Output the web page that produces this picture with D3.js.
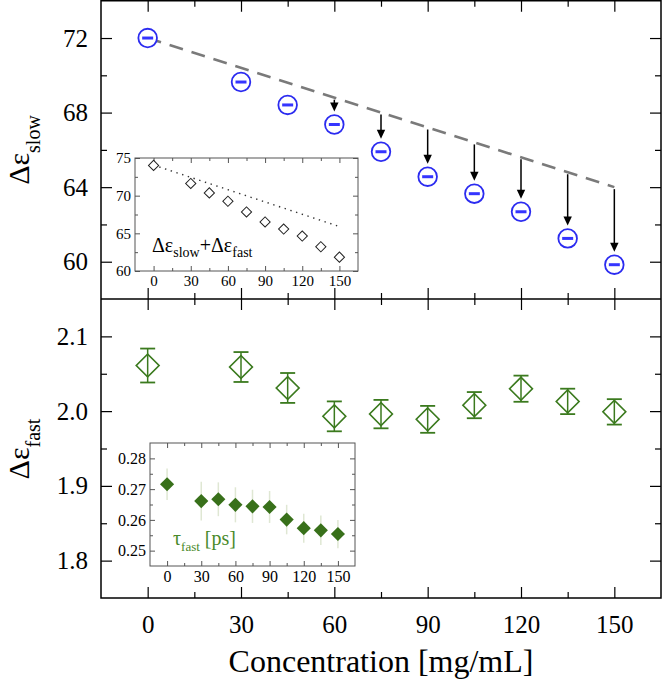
<!DOCTYPE html>
<html><head><meta charset="utf-8">
<script src="https://cdn.jsdelivr.net/npm/d3@7"></script>
<style>
body{margin:0;background:#fff}
svg{display:block}
text{font-family:"Liberation Serif","Times New Roman",serif}
</style>
</head><body>
<svg id="c" width="662" height="679"></svg>
<script>
// ---------------- data ----------------
const conc = [0,30,45,60,75,90,105,120,135,150];
const slow = [72.0,69.64,68.41,67.36,65.90,64.56,63.65,62.68,61.25,59.84];
const slowLine = [{c:0,v:72.0},{c:150,v:64.0}];
const arrowConc = [60,75,90,105,120,135,150];
const total = [74.02,71.62,70.37,69.26,67.84,66.51,65.57,64.64,63.22,61.84];
const totalLine = [{c:0,v:74.06},{c:150,v:65.9}];
const fast = [2.061,2.059,2.031,1.993,1.996,1.989,2.008,2.030,2.013,1.999];
const fastErr = [0.0227,0.020,0.020,0.020,0.019,0.018,0.0175,0.0175,0.017,0.017];
const tau = [0.2716,0.2661,0.2667,0.2649,0.2644,0.2642,0.2601,0.2573,0.2566,0.2554];
const tauErr = [0.0051,0.0063,0.0055,0.0057,0.0054,0.0052,0.0048,0.0047,0.0048,0.0046];
const xTicks = [0,30,60,90,120,150];
const xMinor = [15,45,75,105,135];
const slowTicks = [60,64,68,72];
const slowMinor = [62,66,70];
const fastTicks = [1.8,1.9,2.0,2.1];
const fastMinor = [1.85,1.95,2.05];
const sumTicks = [60,65,70,75];
const sumMinor = [62.5,67.5,72.5];
const tauTicks = [0.25,0.26,0.27,0.28];
const tauMinor = [0.255,0.265,0.275];

// ---------------- setup ----------------
const svg = d3.select("#c");
const L=101, R=661, T=0.75, M=299, B=598;
const x = d3.scaleLinear().domain([-15,165]).range([L,R]);
const yS = d3.scaleLinear().domain([58,74]).range([M,T]);
const yF = d3.scaleLinear().domain([1.75,2.15]).range([B,M]);

const xi1 = d3.scaleLinear().domain([-15,165]).range([135,358]);
const yi1 = d3.scaleLinear().domain([60,75]).range([271,158]);
const xi2 = d3.scaleLinear().domain([-15,165]).range([150,355]);
const yi2 = d3.scaleLinear().domain([0.245,0.285]).range([566,443]);

const blue = "#2b2bf0", green = "#3b7a1e", greenFill = "#38701a";

function ax(fn, scale, values, size, tx, ty, opt){
  opt = opt || {};
  const a = fn(scale).tickValues(values).tickSizeInner(-size).tickSizeOuter(0)
    .tickPadding(opt.pad || 3);
  if (opt.labels) { if (opt.fmt) a.tickFormat(opt.fmt); } else a.tickFormat(()=> "");
  const g = svg.append("g").attr("transform",`translate(${tx},${ty})`).call(a);
  g.select(".domain").remove();
  g.selectAll(".tick line").attr("stroke", opt.color || "#000").attr("stroke-width", opt.sw || 1.2);
  g.selectAll(".tick text").attr("font-size", opt.fs || 25).attr("fill","#000")
    .attr("font-family",'"Liberation Serif","Times New Roman",serif');
  return g;
}

// ---------------- main axes ----------------
// top panel
ax(d3.axisTop, x, xTicks, 11, 0, T);
ax(d3.axisTop, x, xMinor, 6, 0, T);
ax(d3.axisBottom, x, xTicks, 11, 0, M);
ax(d3.axisBottom, x, xMinor, 6, 0, M);
ax(d3.axisLeft, yS, slowTicks, 11, L, 0, {labels:true, pad:13, fs:25});
ax(d3.axisLeft, yS, slowMinor, 6, L, 0);
ax(d3.axisRight, yS, slowTicks, 11, R, 0);
ax(d3.axisRight, yS, slowMinor, 6, R, 0);
// bottom panel
ax(d3.axisTop, x, xTicks, 11, 0, M);
ax(d3.axisTop, x, xMinor, 6, 0, M);
ax(d3.axisBottom, x, xTicks, 11, 0, B, {labels:true, pad:17, fs:25});
ax(d3.axisBottom, x, xMinor, 6, 0, B);
ax(d3.axisLeft, yF, fastTicks, 11, L, 0, {labels:true, pad:13, fs:25, fmt:d3.format(".1f")});
ax(d3.axisLeft, yF, fastMinor, 6, L, 0);
ax(d3.axisRight, yF, fastTicks, 11, R, 0);
ax(d3.axisRight, yF, fastMinor, 6, R, 0);

// frame
svg.append("rect").attr("x",L).attr("y",T).attr("width",R-L).attr("height",B-T)
  .attr("fill","none").attr("stroke","#000").attr("stroke-width",1.5);
svg.append("line").attr("x1",L).attr("x2",R).attr("y1",M).attr("y2",M)
  .attr("stroke","#000").attr("stroke-width",1.5);

// ---------------- top panel data ----------------
svg.append("path").datum(slowLine)
  .attr("d", d3.line().x(d=>x(d.c)).y(d=>yS(d.v)))
  .attr("fill","none").attr("stroke","#7a7a7a").attr("stroke-width",2.5)
  .attr("stroke-dasharray","14,9");

// arrows from the dashed line down to the points
const lineAt = c => slowLine[0].v + (slowLine[1].v - slowLine[0].v)*(c - slowLine[0].c)/(slowLine[1].c - slowLine[0].c);
const arr = svg.append("g");
arrowConc.forEach(c=>{
  const i = conc.indexOf(c);
  const xs = x(c), y0 = yS(lineAt(c)) + 2, tip = yS(slow[i]) - 9.5 - 3.5;
  arr.append("line").attr("x1",xs).attr("x2",xs).attr("y1",y0).attr("y2",tip-7)
    .attr("stroke","#000").attr("stroke-width",1.5);
  arr.append("path").attr("d",`M${xs},${tip}L${xs-4.2},${tip-9}L${xs+4.2},${tip-9}Z`).attr("fill","#000");
});

const gs = svg.append("g").selectAll("g").data(conc).join("g")
  .attr("transform",(d,i)=>`translate(${x(d)},${yS(slow[i])})`);
gs.append("circle").attr("r",9.3).attr("fill","#fff").attr("stroke",blue).attr("stroke-width",1.8);
gs.append("line").attr("x1",-5.5).attr("x2",5.5).attr("stroke","#3535ff").attr("stroke-width",3);

// ---------------- bottom panel data ----------------
const gf = svg.append("g").selectAll("g").data(conc).join("g")
  .attr("transform",(d,i)=>`translate(${x(d)},0)`);
gf.append("line").attr("y1",(d,i)=>yF(fast[i]+fastErr[i])).attr("y2",(d,i)=>yF(fast[i]-fastErr[i]))
  .attr("stroke",green).attr("stroke-width",1.5);
gf.append("line").attr("x1",-7.5).attr("x2",7.5).attr("y1",(d,i)=>yF(fast[i]+fastErr[i])).attr("y2",(d,i)=>yF(fast[i]+fastErr[i]))
  .attr("stroke",green).attr("stroke-width",1.8);
gf.append("line").attr("x1",-7.5).attr("x2",7.5).attr("y1",(d,i)=>yF(fast[i]-fastErr[i])).attr("y2",(d,i)=>yF(fast[i]-fastErr[i]))
  .attr("stroke",green).attr("stroke-width",1.8);
gf.append("path").attr("d",d3.symbol(d3.symbolSquare, 262)())
  .attr("transform",(d,i)=>`translate(0,${yF(fast[i])}) rotate(45)`)
  .attr("fill","none").attr("stroke",green).attr("stroke-width",1.6);

// ---------------- inset 1 ----------------
svg.append("rect").attr("x",135).attr("y",158).attr("width",223).attr("height",113)
  .attr("fill","#fff").attr("stroke","none");
const i1o = {color:"#555", sw:1};
ax(d3.axisBottom, xi1, xTicks, 5, 0, 271, {labels:true, pad:4, fs:15, color:"#555", sw:1});
ax(d3.axisBottom, xi1, xMinor, 3, 0, 271, i1o);
ax(d3.axisTop, xi1, xTicks, 5, 0, 158, i1o);
ax(d3.axisTop, xi1, xMinor, 3, 0, 158, i1o);
ax(d3.axisLeft, yi1, sumTicks, 5, 135, 0, {labels:true, pad:4, fs:15, color:"#555", sw:1});
ax(d3.axisLeft, yi1, sumMinor, 3, 135, 0, i1o);
ax(d3.axisRight, yi1, sumTicks, 5, 358, 0, i1o);
ax(d3.axisRight, yi1, sumMinor, 3, 358, 0, i1o);
svg.append("rect").attr("x",135).attr("y",158).attr("width",223).attr("height",113)
  .attr("fill","none").attr("stroke","#555").attr("stroke-width",1);
svg.append("path").datum(totalLine)
  .attr("d", d3.line().x(d=>xi1(d.c)).y(d=>yi1(d.v)))
  .attr("fill","none").attr("stroke","#333").attr("stroke-width",1.4)
  .attr("stroke-dasharray","1.4,4.6");
svg.append("g").selectAll("path").data(conc).join("path")
  .attr("d",d3.symbol(d3.symbolSquare, 52)())
  .attr("transform",(d,i)=>`translate(${xi1(d)},${yi1(total[i])}) rotate(45)`)
  .attr("fill","#fff").attr("stroke","#222").attr("stroke-width",1);
const t1 = svg.append("text").attr("x",152).attr("y",252).attr("font-size",20).attr("fill","#000");
t1.append("tspan").text("Δε");
t1.append("tspan").text("slow").attr("font-size",14).attr("dy",4.5);
t1.append("tspan").text("+Δε").attr("dy",-4.5);
t1.append("tspan").text("fast").attr("font-size",14).attr("dy",4.5);

// ---------------- inset 2 ----------------
svg.append("rect").attr("x",150).attr("y",443).attr("width",205).attr("height",123)
  .attr("fill","#fff").attr("stroke","none");
const i2o = {color:"#555", sw:1};
ax(d3.axisBottom, xi2, xTicks, 5, 0, 566, {labels:true, pad:5, fs:16, color:"#555", sw:1});
ax(d3.axisBottom, xi2, xMinor, 3, 0, 566, i2o);
ax(d3.axisTop, xi2, xTicks, 5, 0, 443, i2o);
ax(d3.axisTop, xi2, xMinor, 3, 0, 443, i2o);
ax(d3.axisLeft, yi2, tauTicks, 5, 150, 0, {labels:true, pad:4, fs:16, color:"#555", sw:1, fmt:d3.format(".2f")});
ax(d3.axisLeft, yi2, tauMinor, 3, 150, 0, i2o);
ax(d3.axisRight, yi2, tauTicks, 5, 355, 0, i2o);
ax(d3.axisRight, yi2, tauMinor, 3, 355, 0, i2o);
svg.append("rect").attr("x",150).attr("y",443).attr("width",205).attr("height",123)
  .attr("fill","none").attr("stroke","#555").attr("stroke-width",1);
svg.append("g").selectAll("line").data(conc).join("line")
  .attr("x1",d=>xi2(d)).attr("x2",d=>xi2(d))
  .attr("y1",(d,i)=>yi2(tau[i]+tauErr[i])).attr("y2",(d,i)=>yi2(tau[i]-tauErr[i]))
  .attr("stroke","#dfe7d3").attr("stroke-width",1.5);
svg.append("g").selectAll("path").data(conc).join("path")
  .attr("d",d3.symbol(d3.symbolSquare, 100)())
  .attr("transform",(d,i)=>`translate(${xi2(d)},${yi2(tau[i])}) rotate(45)`)
  .attr("fill",greenFill);
const t2 = svg.append("text").attr("x",173).attr("y",545).attr("font-size",20).attr("fill","#4a8a2a");
t2.append("tspan").text("τ");
t2.append("tspan").text("fast").attr("font-size",13).attr("dy",6);
t2.append("tspan").text(" [ps]").attr("dy",-6);

// ---------------- axis titles ----------------
function ylab(cx, cy, sub){
  const t = svg.append("text").attr("transform",`translate(${cx},${cy}) rotate(-90)`)
    .attr("text-anchor","middle").attr("font-size",30).attr("fill","#000");
  t.append("tspan").text("Δε");
  t.append("tspan").text(sub).attr("font-size",20).attr("dy",11);
}
ylab(29, 150, "slow");
ylab(29, 449, "fast");
svg.append("text").attr("x",381).attr("y",672).attr("text-anchor","middle")
  .attr("font-size",32).attr("fill","#000").text("Concentration [mg/mL]");
</script>
</body></html>
